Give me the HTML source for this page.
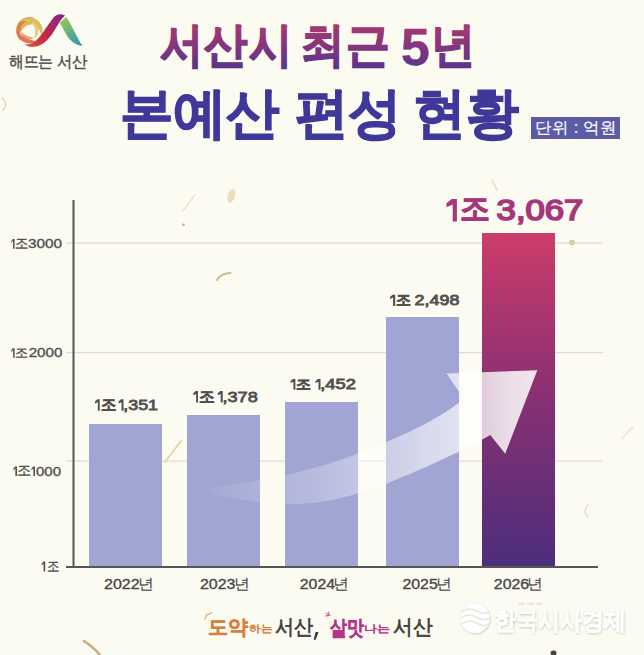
<!DOCTYPE html>
<html><head><meta charset="utf-8">
<style>
html,body{margin:0;padding:0;}
body{width:644px;height:655px;position:relative;overflow:hidden;background:#fcfbf1;font-family:"Liberation Sans",sans-serif;}
svg{position:absolute;left:0;top:0;}
</style></head><body>
<svg width="644" height="655" viewBox="0 0 644 655" font-family="Liberation Sans, sans-serif">
<defs>
  <linearGradient id="g1" gradientUnits="userSpaceOnUse" x1="0" y1="24" x2="0" y2="70">
    <stop offset="0" stop-color="#a8396f"/><stop offset="0.5" stop-color="#83357f"/><stop offset="1" stop-color="#57358c"/>
  </linearGradient>
  <linearGradient id="gb" gradientUnits="userSpaceOnUse" x1="0" y1="233" x2="0" y2="567">
    <stop offset="0" stop-color="#cc3d6a"/><stop offset="0.45" stop-color="#8e3072"/><stop offset="1" stop-color="#4b2e7b"/>
  </linearGradient>
  <linearGradient id="lp" gradientUnits="userSpaceOnUse" x1="20" y1="45" x2="64" y2="14">
    <stop offset="0" stop-color="#e0603a"/><stop offset="0.45" stop-color="#c8283e"/><stop offset="1" stop-color="#7a2890"/>
  </linearGradient>
  <linearGradient id="lg" gradientUnits="userSpaceOnUse" x1="62" y1="18" x2="80" y2="46">
    <stop offset="0" stop-color="#98c850"/><stop offset="1" stop-color="#2e98b8"/>
  </linearGradient>
  <linearGradient id="ga" gradientUnits="userSpaceOnUse" x1="190" y1="0" x2="540" y2="0">
    <stop offset="0.03" stop-color="#fff" stop-opacity="0"/>
    <stop offset="0.114" stop-color="#fff" stop-opacity="0.09"/>
    <stop offset="0.371" stop-color="#fff" stop-opacity="0.25"/>
    <stop offset="0.657" stop-color="#fff" stop-opacity="0.56"/>
    <stop offset="0.914" stop-color="#fff" stop-opacity="0.84"/>
    <stop offset="1" stop-color="#fff" stop-opacity="0.88"/>
  </linearGradient>
  <filter id="sh" x="-20%" y="-20%" width="140%" height="140%"><feDropShadow dx="0.6" dy="0.9" stdDeviation="0.9" flood-color="#000" flood-opacity="0.22"/></filter>
</defs>

<!-- fibers -->
<g stroke-linecap="round" fill="none">
  <ellipse cx="231.3" cy="196" rx="3.6" ry="7" transform="rotate(18 231.3 196)" fill="#dccb9c" opacity="0.6"/>
  <path d="M195 195 L183 211" stroke="#e4dcc4" stroke-width="1.2"/>
  <circle cx="183.5" cy="224.8" r="1.3" fill="#b9b19f"/>
  <path d="M217 280 C220 275 225 273 230.5 273" stroke="#cbbb95" stroke-width="2.2"/>
  <path d="M181 441 C176 448 170 455 165 462" stroke="#e2d6aa" stroke-width="2"/>
  <path d="M84 641 C90 645 96 650 100 655" stroke="#c5ae86" stroke-width="2.6"/>
  <path d="M588 505 C584 509 584 514 588 517" stroke="#cfcab6" stroke-width="1"/>
  <ellipse cx="553.5" cy="653" rx="3" ry="2.5" fill="#4a4036"/>
  <ellipse cx="572" cy="242.5" rx="3" ry="2.6" fill="#cdbf92" opacity="0.9"/>
  <path d="M2 98 C6 101 7 106 3 110" stroke="#ddd0b0" stroke-width="1.3"/>
  <path d="M633 427 C629 430 625 435 622 439" stroke="#e6e0c8" stroke-width="1.2"/>
  <path d="M492 180 L497 190" stroke="#e2dac0" stroke-width="1.2"/>
</g>
<!-- logo -->
<g>
  <path d="M20.89 40.76 L19.75 39.70 L18.75 38.50 L17.90 37.20 L17.20 35.81 L16.66 34.34 L16.30 32.83 L16.12 31.28 L16.12 29.72 L16.30 28.17 L16.66 26.66 L17.20 25.19 L17.90 23.80 L18.75 22.50 L19.75 21.30 L20.89 20.24 L22.14 19.30 L23.49 18.53 L24.92 17.91 L26.41 17.46 L27.94 17.19 L29.50 17.10 L31.06 17.19 L32.59 17.46 L34.08 17.91 L34.08 17.91 L32.24 18.95 L30.79 19.49 L29.50 20.02 L28.34 20.60 L27.30 21.22 L26.36 21.88 L25.52 22.57 L24.76 23.29 L24.07 24.03 L23.46 24.80 L22.90 25.59 L22.40 26.40 L21.95 27.24 L21.54 28.12 L21.19 29.03 L20.88 30.00 L20.64 31.02 L20.46 32.09 L20.36 33.24 L20.35 34.45 L20.43 35.74 L20.61 37.12 L20.87 38.64 L20.89 40.76Z" fill="#d68546"/>
  <path d="M20.31 21.31 L21.40 20.33 L22.60 19.49 L23.88 18.78 L25.23 18.22 L26.64 17.82 L28.08 17.58 L29.55 17.50 L31.01 17.59 L32.45 17.84 L33.86 18.25 L35.21 18.82 L36.48 19.54 L37.67 20.39 L38.76 21.37 L39.73 22.47 L40.56 23.68 L41.26 24.96 L41.81 26.32 L42.20 27.73 L42.43 29.18 L42.50 30.64 L42.40 32.10 L42.14 33.54 L41.72 34.95 L41.72 34.95 L40.71 33.20 L40.20 31.83 L39.69 30.61 L39.15 29.51 L38.57 28.52 L37.96 27.63 L37.32 26.82 L36.66 26.08 L35.98 25.42 L35.27 24.81 L34.55 24.26 L33.80 23.75 L33.02 23.29 L32.22 22.87 L31.37 22.48 L30.48 22.14 L29.53 21.85 L28.53 21.61 L27.46 21.44 L26.31 21.34 L25.09 21.31 L23.78 21.37 L22.32 21.48 L20.31 21.31Z" fill="#d9bd5e"/>
  <path d="M35.90 41.59 L34.95 42.08 L33.97 42.50 L32.95 42.83 L31.91 43.07 L30.85 43.23 L29.78 43.30 L28.71 43.28 L27.64 43.16 L26.59 42.97 L25.56 42.68 L24.56 42.31 L23.59 41.85 L22.66 41.32 L21.78 40.71 L20.96 40.03 L20.19 39.28 L19.49 38.48 L18.86 37.61 L18.30 36.70 L17.82 35.74 L17.42 34.75 L17.11 33.72 L16.89 32.68 L16.75 31.62 L16.75 31.62 L18.22 32.45 L19.09 33.21 L19.86 33.89 L20.59 34.50 L21.29 35.04 L21.96 35.54 L22.62 35.98 L23.26 36.39 L23.88 36.76 L24.50 37.12 L25.11 37.45 L25.71 37.77 L26.33 38.09 L26.95 38.39 L27.59 38.69 L28.26 38.99 L28.96 39.28 L29.70 39.56 L30.49 39.83 L31.34 40.09 L32.25 40.34 L33.25 40.58 L34.37 40.85 L35.90 41.59Z" fill="#e07256"/>
  <path d="M20.64 32.06 L20.52 31.09 L20.51 30.11 L20.60 29.13 L20.81 28.17 L21.11 27.24 L21.52 26.34 L22.02 25.50 L22.61 24.71 L23.28 24.00 L24.02 23.36 L24.83 22.81 L25.70 22.34 L26.61 21.98 L27.55 21.71 L28.52 21.55 L29.50 21.50 L30.48 21.55 L31.45 21.71 L32.39 21.98 L33.30 22.34 L34.17 22.81 L34.98 23.36 L35.72 24.00 L36.39 24.71 L36.39 24.71 L34.99 24.77 L34.00 24.63 L33.12 24.54 L32.30 24.50 L31.53 24.51 L30.82 24.57 L30.14 24.67 L29.50 24.80 L28.89 24.97 L28.32 25.16 L27.76 25.37 L27.22 25.61 L26.69 25.87 L26.17 26.16 L25.65 26.48 L25.14 26.84 L24.62 27.24 L24.11 27.69 L23.60 28.21 L23.10 28.79 L22.60 29.44 L22.11 30.18 L21.58 31.02 L20.64 32.06Z" fill="#e9b55a"/>
  <path d="M31.06 21.64 L31.96 21.84 L32.82 22.14 L33.66 22.52 L34.45 22.98 L35.18 23.52 L35.86 24.14 L36.48 24.82 L37.02 25.55 L37.48 26.34 L37.86 27.18 L38.16 28.04 L38.36 28.94 L38.48 29.85 L38.50 30.76 L38.42 31.67 L38.26 32.58 L38.00 33.45 L37.66 34.30 L37.23 35.11 L36.72 35.87 L36.14 36.58 L35.48 37.22 L34.77 37.80 L34.00 38.29 L34.00 38.29 L34.18 36.98 L34.48 36.09 L34.73 35.29 L34.92 34.53 L35.06 33.82 L35.15 33.14 L35.21 32.48 L35.22 31.86 L35.21 31.25 L35.17 30.66 L35.10 30.09 L35.01 29.53 L34.90 28.97 L34.77 28.41 L34.61 27.84 L34.41 27.27 L34.18 26.68 L33.91 26.09 L33.59 25.48 L33.21 24.85 L32.77 24.21 L32.26 23.54 L31.68 22.81 L31.06 21.64Z" fill="#e4cd76"/>
  <path d="M33.90 38.12 L33.28 38.45 L32.63 38.72 L31.96 38.95 L31.28 39.12 L30.59 39.23 L29.88 39.29 L29.18 39.29 L28.48 39.24 L27.78 39.13 L27.10 38.97 L26.43 38.75 L25.78 38.48 L25.16 38.15 L24.56 37.78 L23.99 37.36 L23.46 36.90 L22.97 36.40 L22.52 35.86 L22.11 35.28 L21.75 34.68 L21.45 34.04 L21.19 33.39 L20.98 32.72 L20.83 32.03 L20.83 32.03 L21.84 32.49 L22.45 32.95 L22.99 33.37 L23.50 33.74 L23.98 34.07 L24.45 34.37 L24.91 34.65 L25.35 34.90 L25.78 35.13 L26.21 35.35 L26.63 35.56 L27.05 35.76 L27.47 35.95 L27.90 36.14 L28.34 36.33 L28.80 36.51 L29.28 36.68 L29.78 36.86 L30.31 37.02 L30.88 37.18 L31.49 37.33 L32.16 37.48 L32.90 37.65 L33.90 38.12Z" fill="#eca070"/>
</g>
<g>
  <path d="M24 44.5 C30 45 36 42 41 35 L53.5 17.5 C56 14.5 60 13 65 15.5 C60 20 58 25 53.5 32 C48 40 43 46 34 46.8 C30 47 27 46 24 44.5 Z" fill="url(#lp)"/>
  <path d="M59.5 22.5 C62 21 64 19 66 17 C71 23 76 36 82.5 46 C76 45 72 42 68.5 38 C64.5 32 62 26 59.5 22.5 Z" fill="url(#lg)"/>
</g>

<!-- grid -->
<g fill="#dedcd2">
  <rect x="66" y="242.5" width="537" height="1.2"/>
  <rect x="66" y="352" width="537" height="1.2"/>
  <rect x="66" y="460.5" width="537" height="1.2"/>
</g>

<!-- bars -->
<g fill="#a0a5d3">
  <rect x="89" y="424" width="73" height="143"/>
  <rect x="187" y="415" width="73" height="152"/>
  <rect x="285" y="402" width="73" height="165"/>
  <rect x="386" y="317" width="73" height="250"/>
</g>
<rect x="482" y="233" width="73" height="334" fill="url(#gb)"/>

<!-- arrow -->
<path d="M192 490 C250 482 310 476 386 442 C420 428 445 414 464 399 L446.5 373.6 L537.3 370.3 L505.2 453.8 L490.3 435.1 C460 452 430 466 386 484 C340 502 300 508 255 502 C230 498 212 494 192 490 Z" fill="url(#ga)"/>
<!-- axes -->
<rect x="72.5" y="200" width="2" height="368" fill="#555"/>
<rect x="66" y="566" width="532" height="2" fill="#555"/>

<!-- unit box -->
<rect x="531" y="117" width="89" height="22" fill="#5b5ba6"/>

<!-- comma -->
<path d="M315.6 632 L318.6 632 L315.6 639.8 L313.6 639.8 Z" fill="#3c3c3c"/>
<!-- doodles -->
<g fill="none" stroke-linecap="round" stroke-width="1">
  <path d="M205 619 L207 614" stroke="#d9923f"/>
  <path d="M208 615 L212 612.5" stroke="#d9923f"/>
  <path d="M326 613 l2.5 2 M329 612 l-1 4 M325.5 616 l5 -1" stroke="#c050a0"/>
</g>
<!-- watermark logo -->
<g filter="url(#sh)">
  <circle cx="475" cy="618.5" r="14.5" fill="#ffffff"/>
</g>
<g fill="none" stroke="#e9e6de" stroke-width="1.6" stroke-linecap="round">
  <path d="M462 612 C468 607 474 609 479 612 C483 614 486 614 489 612"/>
  <path d="M461 618 C467 613 473 615 478 618 C483 621 486 620 489.5 618"/>
  <path d="M462 624 C468 619 474 621 479 624 C483 626 486 626 488.5 624"/>
</g>
<g fill="#ece9e1"><rect x="518" y="602.5" width="7" height="2.5"/><rect x="527" y="602.5" width="7" height="2.5"/><rect x="536" y="602.5" width="7" height="2.5"/></g>
<text transform="translate(160.27 0) scale(0.9229 1)" y="61.22" font-size="47.39" font-weight="700" fill="url(#g1)" stroke="url(#g1)" stroke-width="1.40" stroke-linejoin="miter">서산시</text>
<text transform="translate(301.41 0) scale(0.9271 1)" y="61.22" font-size="47.39" font-weight="700" fill="url(#g1)" stroke="url(#g1)" stroke-width="1.40" stroke-linejoin="miter">최근</text>
<text transform="translate(401.05 0) scale(0.9978 1)" y="64.68" font-size="51.71" font-weight="700" fill="url(#g1)" stroke="url(#g1)" stroke-width="0.60" stroke-linejoin="miter">5</text>
<text transform="translate(430.75 0) scale(0.9421 1)" y="61.27" font-size="47.33" font-weight="700" fill="url(#g1)" stroke="url(#g1)" stroke-width="1.40" stroke-linejoin="miter">년</text>
<text transform="translate(119.68 0) scale(0.9708 1)" y="131.61" font-size="54.95" font-weight="700" fill="#3f389a" stroke="#3f389a" stroke-width="1.20" stroke-linejoin="miter">본예산</text>
<text transform="translate(294.98 0) scale(0.9775 1)" y="131.61" font-size="54.95" font-weight="700" fill="#3f389a" stroke="#3f389a" stroke-width="1.20" stroke-linejoin="miter">편성</text>
<text transform="translate(412.90 0) scale(0.9632 1)" y="131.61" font-size="54.95" font-weight="700" fill="#3f389a" stroke="#3f389a" stroke-width="1.20" stroke-linejoin="miter">현황</text>
<text transform="translate(14.82 0) scale(0.9563 1)" y="248.10" font-size="14.10" font-weight="400" fill="#505050" stroke="#505050" stroke-width="0.35" stroke-linejoin="miter">조</text>
<text transform="translate(27.99 0) scale(1.1549 1)" y="248.39" font-size="13.31" font-weight="400" fill="#505050" stroke="#505050" stroke-width="0.35" stroke-linejoin="miter">3000</text>
<text transform="translate(14.83 0) scale(1.0027 1)" y="357.07" font-size="13.43" font-weight="400" fill="#505050" stroke="#505050" stroke-width="0.35" stroke-linejoin="miter">조</text>
<text transform="translate(28.65 0) scale(1.1993 1)" y="357.35" font-size="12.68" font-weight="400" fill="#505050" stroke="#505050" stroke-width="0.35" stroke-linejoin="miter">2000</text>
<text transform="translate(16.71 0) scale(1.0119 1)" y="475.42" font-size="13.66" font-weight="400" fill="#505050" stroke="#505050" stroke-width="0.35" stroke-linejoin="miter">조</text>
<text transform="translate(36.00 0) scale(1.1660 1)" y="475.70" font-size="12.89" font-weight="400" fill="#505050" stroke="#505050" stroke-width="0.35" stroke-linejoin="miter">000</text>
<text transform="translate(46.96 0) scale(0.8894 1)" y="570.89" font-size="14.40" font-weight="400" fill="#505050" stroke="#505050" stroke-width="0.35" stroke-linejoin="miter">조</text>
<text transform="translate(100.52 0) scale(0.9614 1)" y="409.80" font-size="15.56" font-weight="700" fill="#505050" stroke="#505050" stroke-width="0.45" stroke-linejoin="miter">조</text>
<text transform="translate(123.27 0) scale(1.1824 1)" y="410.25" font-size="15.07" font-weight="400" fill="#505050" stroke="#505050" stroke-width="0.80" stroke-linejoin="miter">,351</text>
<text transform="translate(199.10 0) scale(0.9826 1)" y="401.60" font-size="15.56" font-weight="700" fill="#505050" stroke="#505050" stroke-width="0.45" stroke-linejoin="miter">조</text>
<text transform="translate(222.45 0) scale(1.2038 1)" y="402.05" font-size="15.07" font-weight="400" fill="#505050" stroke="#505050" stroke-width="0.80" stroke-linejoin="miter">,378</text>
<text transform="translate(296.23 0) scale(1.0667 1)" y="388.76" font-size="14.30" font-weight="700" fill="#505050" stroke="#505050" stroke-width="0.45" stroke-linejoin="miter">조</text>
<text transform="translate(320.28 0) scale(1.3265 1)" y="389.16" font-size="13.80" font-weight="400" fill="#505050" stroke="#505050" stroke-width="0.80" stroke-linejoin="miter">,452</text>
<text transform="translate(396.32 0) scale(0.9946 1)" y="305.02" font-size="15.14" font-weight="700" fill="#505050" stroke="#505050" stroke-width="0.45" stroke-linejoin="miter">조</text>
<text transform="translate(414.59 0) scale(1.2243 1)" y="305.45" font-size="14.65" font-weight="400" fill="#505050" stroke="#505050" stroke-width="0.80" stroke-linejoin="miter">2,498</text>
<text transform="translate(459.62 0) scale(0.9659 1)" y="219.47" font-size="30.56" font-weight="700" fill="#a6377a" stroke="#a6377a" stroke-width="0.80" stroke-linejoin="miter">조</text>
<text transform="translate(496.62 0) scale(1.1839 1)" y="220.26" font-size="29.30" font-weight="400" fill="#a6377a" stroke="#a6377a" stroke-width="1.70" stroke-linejoin="miter">3,067</text>
<text transform="translate(104.10 0) scale(1.1411 1)" y="589.08" font-size="14.01" font-weight="400" fill="#484848" stroke="#484848" stroke-width="0.35" stroke-linejoin="miter">2022</text>
<text transform="translate(137.78 0) scale(1.0598 1)" y="588.98" font-size="14.71" font-weight="400" fill="#484848" stroke="#484848" stroke-width="0.10" stroke-linejoin="miter">년</text>
<text transform="translate(200.00 0) scale(1.1358 1)" y="589.08" font-size="14.01" font-weight="400" fill="#484848" stroke="#484848" stroke-width="0.35" stroke-linejoin="miter">2023</text>
<text transform="translate(233.68 0) scale(1.0598 1)" y="588.98" font-size="14.71" font-weight="400" fill="#484848" stroke="#484848" stroke-width="0.10" stroke-linejoin="miter">년</text>
<text transform="translate(299.81 0) scale(1.1305 1)" y="589.08" font-size="14.01" font-weight="400" fill="#484848" stroke="#484848" stroke-width="0.35" stroke-linejoin="miter">2024</text>
<text transform="translate(333.48 0) scale(1.0598 1)" y="588.98" font-size="14.71" font-weight="400" fill="#484848" stroke="#484848" stroke-width="0.10" stroke-linejoin="miter">년</text>
<text transform="translate(402.40 0) scale(1.1358 1)" y="589.08" font-size="14.01" font-weight="400" fill="#484848" stroke="#484848" stroke-width="0.35" stroke-linejoin="miter">2025</text>
<text transform="translate(436.08 0) scale(1.0598 1)" y="588.98" font-size="14.71" font-weight="400" fill="#484848" stroke="#484848" stroke-width="0.10" stroke-linejoin="miter">년</text>
<text transform="translate(493.80 0) scale(1.1358 1)" y="589.08" font-size="14.01" font-weight="400" fill="#484848" stroke="#484848" stroke-width="0.35" stroke-linejoin="miter">2026</text>
<text transform="translate(527.48 0) scale(1.0598 1)" y="588.98" font-size="14.71" font-weight="400" fill="#484848" stroke="#484848" stroke-width="0.10" stroke-linejoin="miter">년</text>
<text transform="translate(9.37 0) scale(0.9268 1)" y="66.98" font-size="15.67" font-weight="400" fill="#505050" stroke="#505050" stroke-width="0.45" stroke-linejoin="miter">해뜨는</text>
<text transform="translate(57.11 0) scale(0.9609 1)" y="66.98" font-size="15.67" font-weight="400" fill="#505050" stroke="#505050" stroke-width="0.45" stroke-linejoin="miter">서산</text>
<text transform="translate(534.63 0) scale(1.0273 1)" y="133.17" font-size="16.39" font-weight="400" fill="#ffffff" stroke="#ffffff" stroke-width="0.15" stroke-linejoin="miter">단위 : 억원</text>
<text transform="translate(208.33 0) scale(1.0008 1)" y="634.27" font-size="19.57" font-weight="700" fill="#d4823a" stroke="#d4823a" stroke-width="0.40" stroke-linejoin="miter">도약</text>
<text transform="translate(249.23 0) scale(1.1554 1)" y="631.55" font-size="10.00" font-weight="400" fill="#d4823a" stroke="#d4823a" stroke-width="0.50" stroke-linejoin="miter">하는</text>
<text transform="translate(275.06 0) scale(0.9114 1)" y="634.14" font-size="20.79" font-weight="400" fill="#3c3c3c" stroke="#3c3c3c" stroke-width="0.70" stroke-linejoin="miter">서산</text>
<text transform="translate(330.02 0) scale(0.8048 1)" y="635.35" font-size="20.99" font-weight="700" fill="#b5338a" stroke="#b5338a" stroke-width="0.40" stroke-linejoin="miter">살맛</text>
<text transform="translate(363.59 0) scale(1.3065 1)" y="631.55" font-size="10.00" font-weight="400" fill="#b5338a" stroke="#b5338a" stroke-width="0.50" stroke-linejoin="miter">나는</text>
<text transform="translate(393.13 0) scale(0.9380 1)" y="634.48" font-size="21.24" font-weight="400" fill="#3c3c3c" stroke="#3c3c3c" stroke-width="0.70" stroke-linejoin="miter">서산</text>
<text transform="translate(494.19 0) scale(0.9170 1)" y="628.60" font-size="24.00" font-weight="400" fill="#ffffff" stroke="#ffffff" stroke-width="1.20" stroke-linejoin="miter" filter="url(#sh)">한국시사경제</text>
<path d="M12.81 238.90 L14.60 238.90 L14.60 248.70 L13.08 248.70 L13.08 240.86 L11.15 242.82 L11.15 241.45 Z" fill="#505050"/>
<path d="M12.81 348.30 L14.60 348.30 L14.60 357.65 L13.08 357.65 L13.08 350.17 L11.15 352.04 L11.15 350.73 Z" fill="#505050"/>
<path d="M15.08 466.50 L17.00 466.50 L17.00 476.00 L15.37 476.00 L15.37 468.40 L13.30 470.30 L13.30 468.97 Z" fill="#505050"/>
<path d="M33.08 466.50 L35.00 466.50 L35.00 476.00 L33.37 476.00 L33.37 468.40 L31.30 470.30 L31.30 468.97 Z" fill="#505050"/>
<path d="M43.28 561.50 L45.20 561.50 L45.20 571.50 L43.57 571.50 L43.57 563.50 L41.50 565.50 L41.50 564.10 Z" fill="#505050"/>
<path d="M97.35 399.30 L99.70 399.30 L99.70 410.80 L97.82 410.80 L97.82 402.18 L95.00 403.56 L95.00 401.49 Z" fill="#505050"/>
<path d="M121.00 399.30 L123.50 399.30 L123.50 410.80 L121.50 410.80 L121.50 402.18 L118.50 403.56 L118.50 401.49 Z" fill="#505050"/>
<path d="M195.65 391.10 L198.00 391.10 L198.00 402.60 L196.12 402.60 L196.12 393.98 L193.30 395.36 L193.30 393.29 Z" fill="#505050"/>
<path d="M220.20 391.10 L222.70 391.10 L222.70 402.60 L220.70 402.60 L220.70 393.98 L217.70 395.36 L217.70 393.29 Z" fill="#505050"/>
<path d="M292.95 379.10 L295.40 379.10 L295.40 389.70 L293.44 389.70 L293.44 381.75 L290.50 383.02 L290.50 381.11 Z" fill="#505050"/>
<path d="M318.00 379.10 L320.50 379.10 L320.50 389.70 L318.50 389.70 L318.50 381.75 L315.50 383.02 L315.50 381.11 Z" fill="#505050"/>
<path d="M392.60 294.80 L395.20 294.80 L395.20 306.00 L393.12 306.00 L393.12 297.60 L390.00 298.94 L390.00 296.93 Z" fill="#505050"/>
<path d="M451.70 198.90 L456.90 198.90 L456.90 221.40 L452.74 221.40 L452.74 204.53 L446.50 207.22 L446.50 203.18 Z" fill="#a6377a"/>
</svg>
</body></html>
